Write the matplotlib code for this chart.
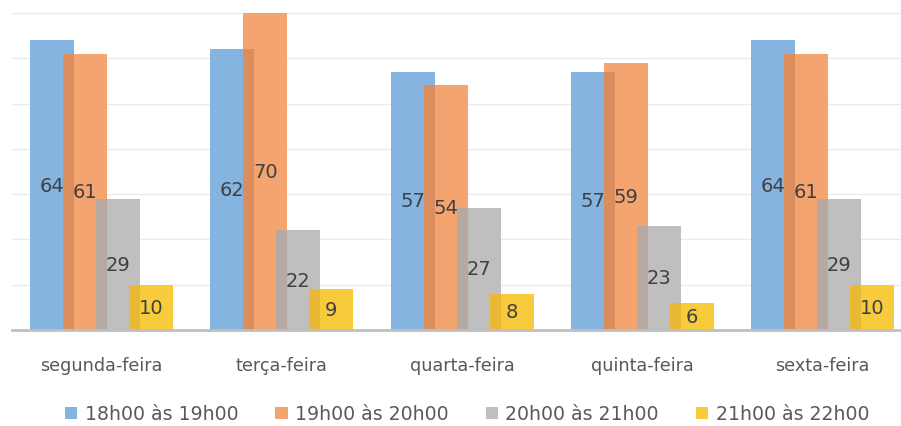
import matplotlib.pyplot as plt
from matplotlib.patches import Patch

dias = ['segunda-feira', 'terça-feira', 'quarta-feira', 'quinta-feira', 'sexta-feira']
faixas = ['18h00 às 19h00', '19h00 às 20h00', '20h00 às 21h00', '21h00 às 22h00']
h18_19 = [64, 62, 57, 57, 64]
h19_20 = [61, 70, 54, 59, 61]
h20_21 = [29, 22, 27, 23, 29]
h21_22 = [10, 9, 8, 6, 10]
series = [h18_19, h19_20, h20_21, h21_22]

cores = ['#85B4E1', '#F4A46F', '#BFBFBF', '#F8CB3C']
sombras = [None, '#DB8D5E', '#B5A9A1', '#E9B935']

fig = plt.figure(figsize=(9.01, 4.27), dpi=100)
ax = fig.add_axes([11.5 / 901, 96 / 427, 1 - 11.5 / 901, 331 / 427])

largura = 0.244
passo = 0.183
x = list(range(len(dias)))

for k, valores in enumerate(series):
    off = (k - 1.5) * passo
    pos = [i + off for i in x]
    ax.bar(pos, valores, width=largura, color=cores[k], zorder=3 + k)
    # faixa escura onde a barra cobre a anterior
    if k > 0:
        ant = series[k - 1]
        sob = largura - passo
        pos_s = [p - largura / 2 + sob / 2 for p in pos]
        alt = [min(a, b) for a, b in zip(valores, ant)]
        ax.bar(pos_s, alt, width=sob, color=sombras[k], zorder=3 + k)
    for p, v in zip(pos, valores):
        ax.text(p, v / 2, str(v), ha='center', va='center', fontsize=14,
                color='#404040', zorder=10)

ax.set_xlim(-0.5, -0.5 + (901 - 11.5) / 180.25)
ax.set_ylim(0, 331 / 4.53)
ax.set_yticks(range(10, 80, 10))
ax.yaxis.grid(True, color='#EBEBEB', linewidth=1, zorder=0)
ax.tick_params(axis='y', left=False, labelleft=False)
ax.set_xticks(x)
ax.set_xticklabels(dias, fontsize=12.7, color='#595959')
ax.tick_params(axis='x', length=0, pad=19)
for s in ['top', 'right', 'left']:
    ax.spines[s].set_visible(False)
ax.spines['bottom'].set_color('#BFBFBF')
ax.spines['bottom'].set_linewidth(2)
ax.spines['bottom'].set_zorder(20)

handles = [Patch(facecolor=c, edgecolor='none') for c in cores]
fig.legend(handles, faixas, loc='center', bbox_to_anchor=(467 / 901, 1 - 415 / 427),
           ncol=4, frameon=False, fontsize=13.6, labelcolor='#595959',
           handlelength=0.65, handleheight=0.65, handletextpad=0.4,
           columnspacing=1.95)

fig.savefig('out.png', dpi=100)
